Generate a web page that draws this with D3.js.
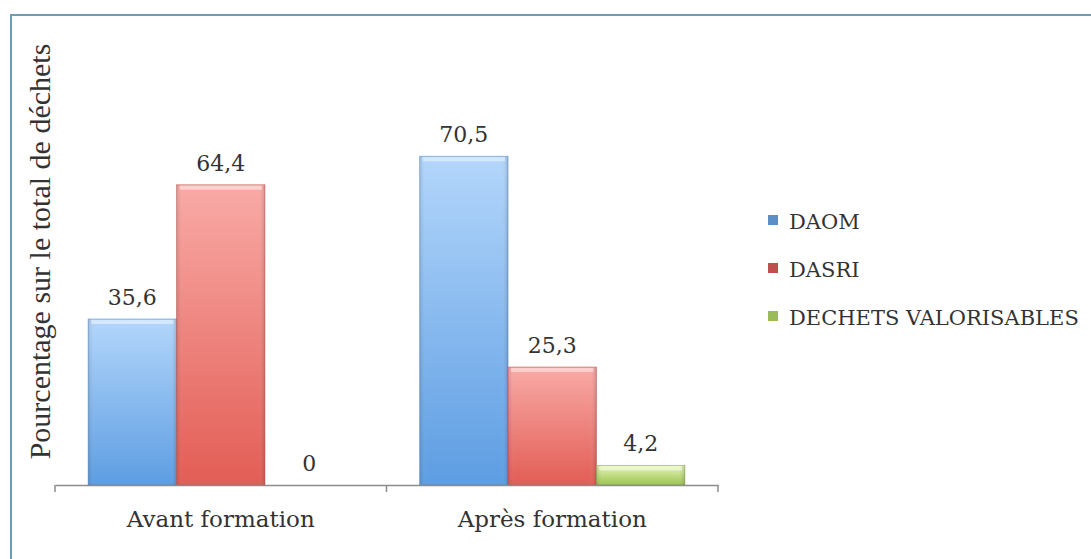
<!DOCTYPE html>
<html>
<head>
<meta charset="utf-8">
<script src="https://cdn.jsdelivr.net/npm/d3@7"></script>
<style>
  body { margin: 0; background: #fff; }
  svg { display: block; }
</style>
</head>
<body>
<div class="chart"></div>
<script>
var svgWidth = 1091;
var svgHeight = 559;

// data
var categories = ["Avant formation", "Après formation"];
var seriesNames = ["DAOM", "DASRI", "DECHETS VALORISABLES"];
var daom = [35.6, 70.5];
var dasri = [64.4, 25.3];
var valorisables = [0, 4.2];
var yTitle = "Pourcentage sur le total de déchets";

var seriesValues = [daom, dasri, valorisables];
var colors = [
  { top: "#b3d6fb", bottom: "#5d9de2", edge: "#4f86c0", legend: "#5b8fc6" },
  { top: "#f9aaa6", bottom: "#e25d55", edge: "#b9544e", legend: "#c0504d" },
  { top: "#e4f5b4", bottom: "#9cc452", edge: "#7f9c45", legend: "#9bbb59" }
];

var margin = { top: 112, left: 55, bottom: 74, right: 373 };
var plotBottom = svgHeight - margin.bottom; // 485
var plotRight = svgWidth - margin.right; // 718
var serif = "'DejaVu Serif', serif";

var svg = d3.select(".chart").append("svg")
  .attr("width", svgWidth)
  .attr("height", svgHeight);

var defs = svg.append("defs");
colors.forEach(function(c, i) {
  var g = defs.append("linearGradient")
    .attr("id", "grad" + i)
    .attr("x1", 0).attr("y1", 0).attr("x2", 0).attr("y2", 1);
  g.append("stop").attr("offset", "0%").attr("stop-color", c.top);
  g.append("stop").attr("offset", "100%").attr("stop-color", c.bottom);
  var h = defs.append("linearGradient")
    .attr("id", "side" + i)
    .attr("x1", 0).attr("y1", 0).attr("x2", 1).attr("y2", 0);
  h.append("stop").attr("offset", "0%").attr("stop-color", "#000").attr("stop-opacity", 0.12);
  h.append("stop").attr("offset", "8%").attr("stop-color", "#fff").attr("stop-opacity", 0);
  h.append("stop").attr("offset", "92%").attr("stop-color", "#fff").attr("stop-opacity", 0);
  h.append("stop").attr("offset", "100%").attr("stop-color", "#000").attr("stop-opacity", 0.15);
});

// outer frame
svg.append("rect")
  .attr("x", 11).attr("y", 15)
  .attr("width", svgWidth + 20).attr("height", svgHeight + 20)
  .attr("fill", "none")
  .attr("stroke", "#6b9fb3")
  .attr("stroke-width", 2);

var x0 = d3.scaleBand()
  .domain(categories)
  .range([margin.left, plotRight])
  .paddingInner(0)
  .paddingOuter(0);

var x1 = d3.scaleBand()
  .domain(d3.range(seriesNames.length))
  .range([0, x0.bandwidth()])
  .paddingInner(0)
  .paddingOuter(0.375);

var y = d3.scaleLinear()
  .domain([0, 80])
  .range([plotBottom, margin.top]);

var groups = svg.selectAll(".group")
  .data(categories)
  .enter()
  .append("g")
  .attr("class", "group")
  .attr("transform", d => `translate(${x0(d)},0)`);

groups.each(function(cat, ci) {
  var g = d3.select(this);
  seriesValues.forEach(function(vals, si) {
    var v = vals[ci];
    var bx = x1(si), bw = x1.bandwidth();
    if (v > 0) {
      g.append("rect")
        .attr("x", bx).attr("y", y(v))
        .attr("width", bw).attr("height", y(0) - y(v))
        .attr("fill", "url(#grad" + si + ")")
        .attr("stroke", colors[si].edge)
        .attr("stroke-opacity", 0.5)
        .attr("stroke-width", 1);
      g.append("rect")
        .attr("x", bx).attr("y", y(v))
        .attr("width", bw).attr("height", y(0) - y(v))
        .attr("fill", "url(#side" + si + ")");
      // light bevel on top
      g.append("rect")
        .attr("x", bx + 3).attr("y", y(v) + 1)
        .attr("width", bw - 6).attr("height", 4)
        .attr("fill", "#fff").attr("opacity", 0.45);
    }
    g.append("text")
      .attr("x", bx + bw / 2)
      .attr("y", y(v) - 14)
      .attr("text-anchor", "middle")
      .style("font-family", serif)
      .style("font-size", "22px")
      .style("fill", "#333")
      .text(String(v).replace(".", ","));
  });
});

// x axis
var xAxis = svg.append("g")
  .attr("transform", `translate(0,${plotBottom})`)
  .call(d3.axisBottom(x0).tickSize(0).tickPadding(29));
xAxis.select(".domain").attr("stroke", "#8c8c8c").attr("stroke-width", 1.5);
xAxis.selectAll("text")
  .style("font-family", serif)
  .style("font-size", "23px")
  .style("fill", "#333")
  .attr("dy", "0.55em");
var tickXs = [margin.left].concat(categories.map(c => x0(c) + x0.bandwidth()));
xAxis.selectAll(".sep")
  .data(tickXs)
  .enter()
  .append("line")
  .attr("x1", d => d).attr("x2", d => d)
  .attr("y1", 0).attr("y2", 7)
  .attr("stroke", "#8c8c8c").attr("stroke-width", 1.5);

// y title
svg.append("text")
  .attr("transform", `translate(50,${(45 + 458) / 2}) rotate(-90)`)
  .attr("text-anchor", "middle")
  .style("font-family", "'Liberation Serif', serif")
  .style("font-size", "30px")
  .style("fill", "#333")
  .text(yTitle);

// legend
var legend = svg.selectAll(".legend")
  .data(seriesNames)
  .enter()
  .append("g")
  .attr("class", "legend")
  .attr("transform", (d, i) => `translate(768,${220 + i * 48})`);
legend.append("rect")
  .attr("x", 0).attr("y", -5)
  .attr("width", 10).attr("height", 10)
  .attr("fill", (d, i) => colors[i].legend);
legend.append("text")
  .attr("x", 21).attr("y", 9)
  .style("font-family", serif)
  .style("font-size", "21px")
  .style("fill", "#333")
  .text(d => d);
</script>
</body>
</html>
